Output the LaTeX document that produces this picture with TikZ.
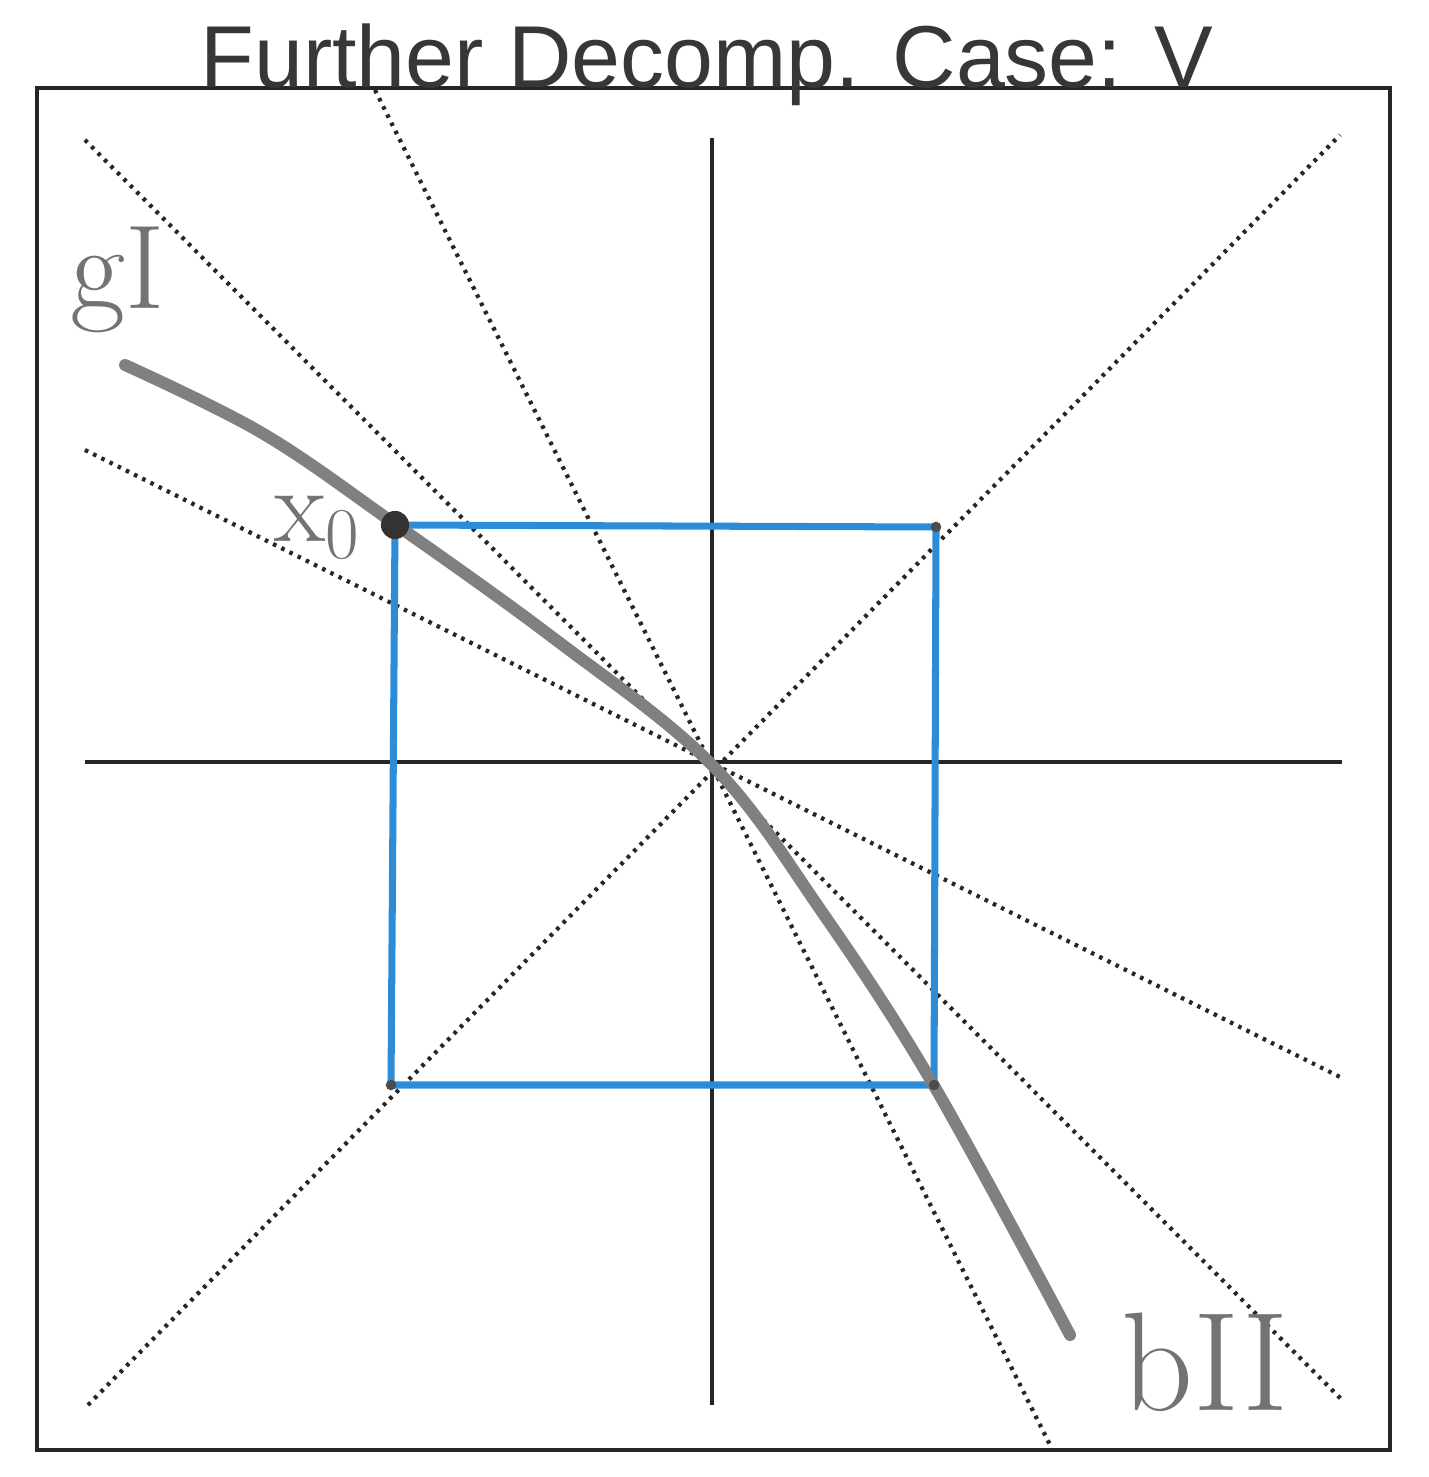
\documentclass[tikz,border=0pt]{standalone}
\usepackage{fontspec}
\newfontfamily\titlefont{Liberation Sans}
\usepackage{tikz}
\usetikzlibrary{positioning}

\definecolor{sqblue}{RGB}{45,140,215}
\definecolor{pencil}{RGB}{128,128,128}
\definecolor{inkgray}{RGB}{115,115,115}
\definecolor{titlegray}{RGB}{55,55,55}

\begin{document}
\begin{tikzpicture}[
  x=0.01cm, y=-0.01cm,
  frame/.style={line width=1pt, black!85},
  axis/.style={line width=1pt, black!85},
  ray/.style={line width=1.2pt, black!85, dash pattern=on 1pt off 1.6pt},
  sq/.style={line width=2pt, sqblue},
  curve/.style={line width=3.4pt, pencil, line cap=round, line join=round},
  hand/.style={inkgray, inner sep=0pt},
  dot/.style={circle, fill=black!80, inner sep=0pt, minimum size=#1}
]
  \useasboundingbox (0,0) rectangle (1428,1477);

  % Rahmen und Titel
  \draw[frame] (37,88) rectangle (1390,1450);
  \node[anchor=base, titlegray, inner sep=0pt, font=\titlefont\fontsize{25}{30}\selectfont] (ttl) at (707,88) {Further Decomp. Case: V};

  % Ursprung und Endpunkte
  \coordinate (o) at (712,762);
  \coordinate (ytop) at (712,138);   \coordinate (ybot) at (712,1405);
  \coordinate (xlft) at (85,762);    \coordinate (xrgt) at (1342,762);
  \coordinate (dtl) at (85,140);     \coordinate (dbr) at (1342,1400);
  \coordinate (dbl) at (88,1405);    \coordinate (dtr) at (1340,135);
  \coordinate (fl) at (85,450);      \coordinate (fr) at (1342,1078);
  \coordinate (st) at (375,90);      \coordinate (sb) at (1050,1445);

  % Achsen
  \draw[axis] (ytop) -- (ybot);
  \draw[axis] (xlft) -- (xrgt);

  % Strahlen durch den Ursprung
  \draw[ray] (dtl) -- (dbr);
  \draw[ray] (dbl) -- (dtr);
  \draw[ray] (fl) -- (fr);
  \draw[ray] (st) -- (sb);

  % Quadrat
  \coordinate (q1) at (395,525);
  \coordinate (q2) at (936,527);
  \coordinate (q3) at (934,1085);
  \coordinate (q4) at (391,1085);
  \draw[sq] (q1) -- (q2) -- (q3) -- (q4) -- cycle;

  % Kurve
  \draw[curve] plot[smooth, tension=0.6] coordinates {(125,365) (262,433) (395,524) (556,640) (712,765) (822,912) (933,1084) (1070,1335)};

  % Punkte
  \node[dot=8pt] (x0) at (q1) {};
  \node[dot=3pt, black!70] (c2) at (q2) {};
  \node[dot=3pt, black!70] (c3) at (q3) {};
  \node[dot=3pt, black!70] (c4) at (q4) {};

  % Beschriftung
  \node[hand, font=\fontsize{34}{38}\selectfont] (gI) at (118,280) {gI};
  \node[hand, font=\fontsize{30}{34}\selectfont] (lx0) at (318,527) {x$_0$};
  \node[hand, font=\fontsize{40}{44}\selectfont] (bII) at (1205,1362) {bII};
\end{tikzpicture}
\end{document}
